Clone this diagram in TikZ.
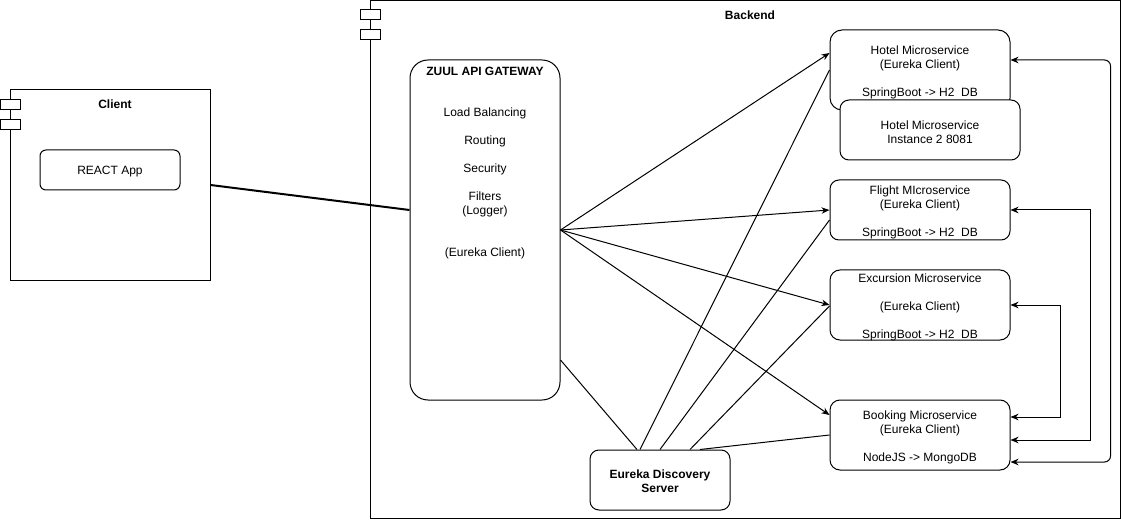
\documentclass[tikz,border=0pt]{standalone}
\usepackage{fontspec}
\setmainfont{Liberation Sans}
\usetikzlibrary{arrows.meta,calc}
\begin{document}
\begin{tikzpicture}[x=1pt,y=-1pt,line width=1pt,
  font=\fontsize{12}{14}\selectfont,
  frame/.style={draw,inner sep=0pt},
  icon/.style={draw,fill=white,minimum width=20pt,minimum height=10pt,inner sep=0pt},
  titletext/.style={font=\fontsize{12}{14}\selectfont\bfseries,inner sep=0pt,align=center},
  plain/.style={inner sep=0pt,align=center},
  box/.style={draw,fill=white,inner sep=0pt,minimum width=180pt},
  tip/.style={-{Stealth[length=8pt,width=6.5pt,inset=2.5pt]}},
  tips/.style={{Stealth[length=8pt,width=6.5pt,inset=2.5pt]}-{Stealth[length=8pt,width=6.5pt,inset=2.5pt]}}
]
\useasboundingbox (0,0) rectangle (1121,521);

% Client component
\node[frame,minimum width=200pt,minimum height=190pt] (client) at (110,185) {};
\node[icon] (cicon1) at (10,105) {};
\node[icon] (cicon2) at (10,125) {};
\node[titletext] (clientlbl) at (115,104) {Client};
\node[box,minimum width=140pt,minimum height=40pt,rounded corners=6pt] (react) at (110,170) {};
\node[plain] (reactt) at ($(react.center)+(0,2)$) {REACT App};

% Backend component
\node[frame,minimum width=750pt,minimum height=517pt] (backend) at (745,259.5) {};
\node[icon] (bicon1) at (370,15) {};
\node[icon] (bicon2) at (370,35) {};
\node[titletext] (backendlbl) at (750,15) {Backend};

% Gateway
\node[box,minimum width=150pt,minimum height=340pt,rounded corners=18pt] (gw) at (485,230) {};
\node[titletext] (gwt0) at (485,71.5) {ZUUL API GATEWAY};
\node[plain] (gwt1) at (485,113.5) {Load Balancing};
\node[plain] (gwt2) at (485,141.5) {Routing};
\node[plain] (gwt3) at (485,169.5) {Security};
\node[plain] (gwt4) at (485,204.5) {Filters\\(Logger)};
\node[plain] (gwt5) at (485,253.5) {(Eureka Client)};

% Microservices
\node[box,minimum height=80pt,rounded corners=12pt] (hotel) at (920,70) {};
\node[plain] (hotelt) at ($(hotel.center)+(0,2)$)
  {Hotel Microservice\\(Eureka Client)\\[14pt]SpringBoot -> H2\ \ DB};
\node[box,minimum height=60pt,rounded corners=9pt] (hotel2) at (930,130) {};
\node[plain] (hotel2t) at ($(hotel2.center)+(0,2)$)
  {Hotel Microservice\\Instance 2 8081};
\node[box,minimum height=60pt,rounded corners=9pt] (flight) at (920,210) {};
\node[plain] (flightt) at ($(flight.center)+(0,2)$)
  {Flight MIcroservice\\(Eureka Client)\\[14pt]SpringBoot -> H2\ \ DB};
\node[box,minimum height=70pt,rounded corners=10pt] (exc) at (920,305) {};
\node[plain] (exct) at ($(exc.center)+(0,2)$)
  {Excursion Microservice\\[14pt](Eureka Client)\\[14pt]SpringBoot -> H2\ \ DB};
\node[box,minimum height=70pt,rounded corners=10pt] (book) at (920,435) {};
\node[plain] (bookt) at ($(book.center)+(0,2)$)
  {Booking Microservice\\(Eureka Client)\\[14pt]NodeJS -> MongoDB};

% Eureka server
\node[box,minimum width=140pt,minimum height=60pt,rounded corners=9pt] (eureka) at (660,480) {};
\node[titletext] (eurekat) at ($(eureka.center)+(0,1.5)$) {Eureka Discovery\\Server};

% Client to gateway
\draw[line width=2pt] (client.east) -- ([yshift=20pt]gw.west);

% Gateway to services
\draw[tip] (gw.east) -- ([yshift=17pt]hotel.west);
\draw[tip] (gw.east) -- (flight.west);
\draw[tip] (gw.east) -- (exc.west);
\draw[tip] (gw.east) -- ([yshift=20pt]book.west);

% Eureka registrations
\draw ([xshift=-23pt]eureka.north) -- ([yshift=-130pt]gw.east);
\draw ([xshift=-20pt]eureka.north) -- (hotel.west);
\draw (eureka.north) -- ([yshift=-10pt]flight.west);
\draw ([xshift=30pt]eureka.north) -- ([yshift=-1pt]exc.west);
\draw ([xshift=40pt]eureka.north) -- (book.west);

% Right side connectors
\draw[tips,rounded corners=6pt] ([yshift=10pt]hotel.east) -- ++(100,0) |- ([yshift=-27pt]book.east);
\draw[tips] (flight.east) -- ++(80,0) |- ([yshift=-5pt]book.east);
\draw[tips] (exc.east) -- ++(50,0) |- ([yshift=18pt]book.east);
\end{tikzpicture}
\end{document}
